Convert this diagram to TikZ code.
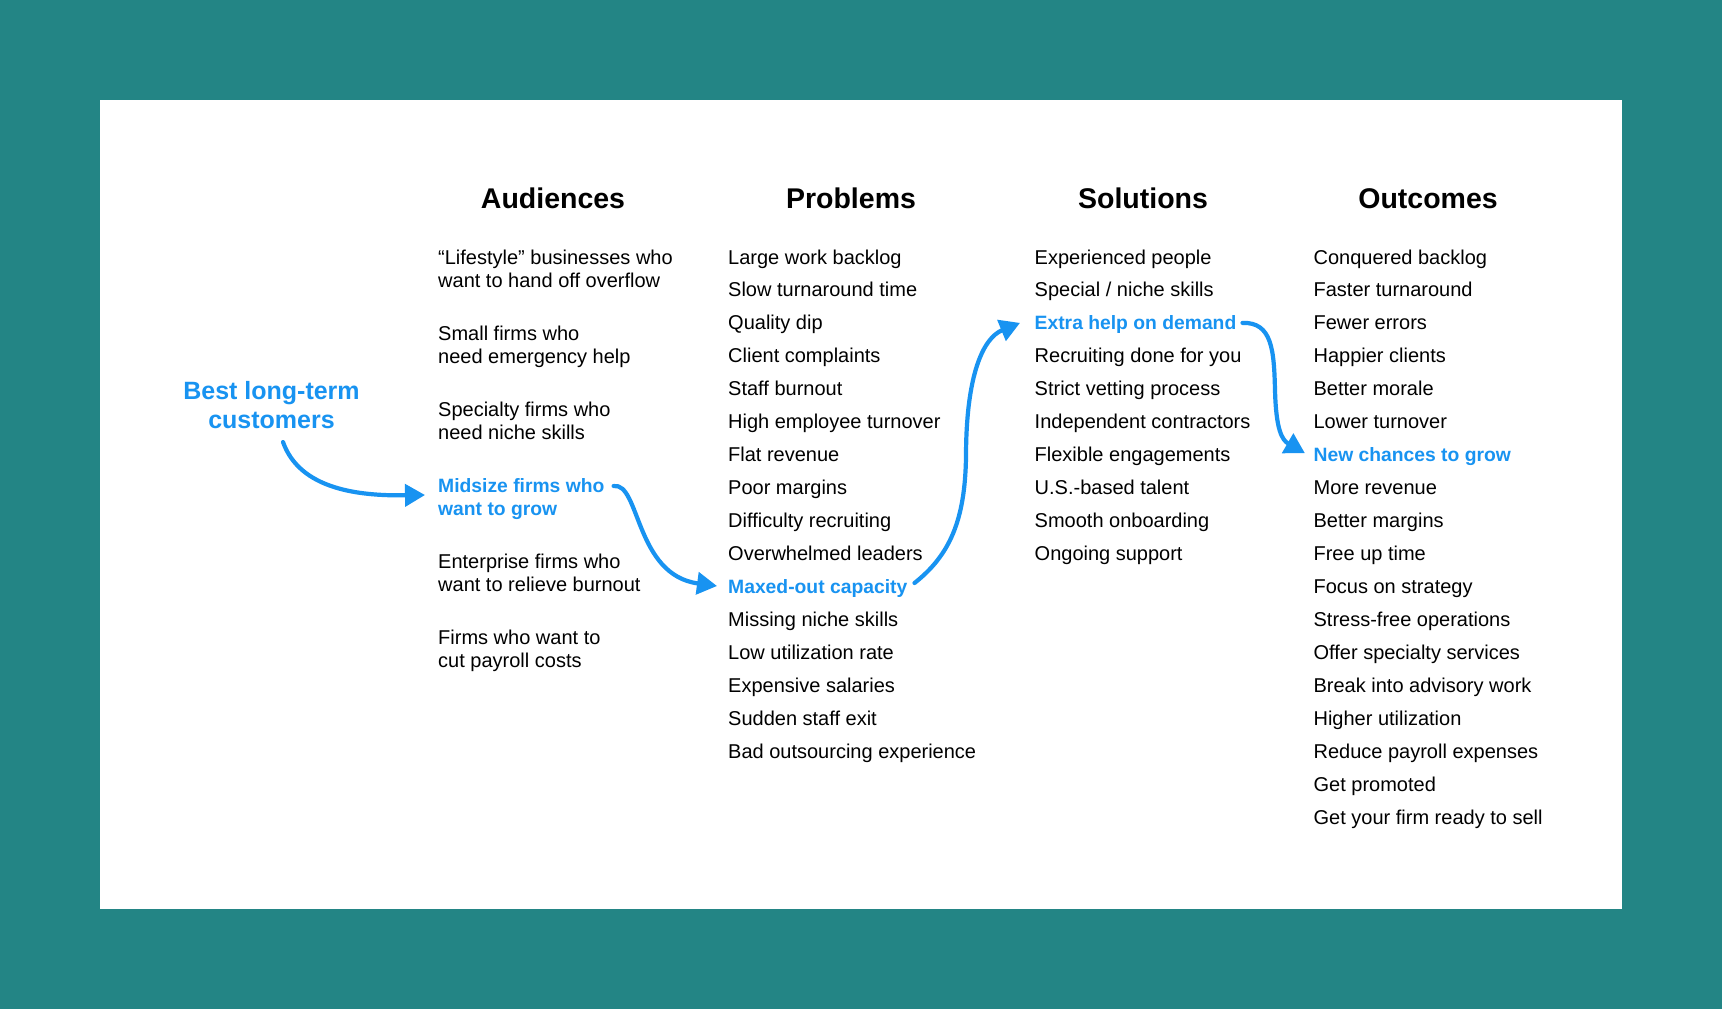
\documentclass[tikz,border=0pt]{standalone}
\usepackage{fontspec}
\setmainfont{Liberation Sans}
\usetikzlibrary{arrows.meta}
\definecolor{teal0}{HTML}{238585}
\definecolor{hl}{HTML}{1893F1}
\newcommand{\hlfont}{\fontsize{19.3}{23}\selectfont\bfseries\color{hl}}
\begin{document}
\begin{tikzpicture}[x=1pt,y=-1pt,
  item/.style={anchor=base west,inner sep=0pt,font=\fontsize{20}{23}\selectfont},
  hlitem/.style={item,text=hl,font=\hlfont},
  head/.style={anchor=base,inner sep=0pt,font=\fontsize{28.5}{32}\selectfont\bfseries},
  best/.style={anchor=base,inner sep=0pt,text=hl,font=\fontsize{25}{29}\selectfont\bfseries},
  conn/.style={hl,line width=4.2pt,line cap=round,-{Triangle[length=20pt,width=22pt]}}]
\fill[teal0] (0,0) rectangle (1722,1009);
\fill[white] (100,100) rectangle (1622,909);
\useasboundingbox (0,0) rectangle (1722,1009);

% headers
\node[head] (hA) at (553,208) {Audiences};
\node[head] (hP) at (851,208) {Problems};
\node[head] (hS) at (1143,208) {Solutions};
\node[head] (hO) at (1428,208) {Outcomes};

% best customers
\node[best] (best1) at (271.5,399) {Best long-term};
\node[best] (best2) at (271.5,428) {customers};

% audiences
\node[item] (a0a) at (438,264) {“Lifestyle” businesses who};
\node[item] (a0b) at (438,287) {want to hand off overflow};
\node[item] (a1a) at (438,340) {Small firms who};
\node[item] (a1b) at (438,363) {need emergency help};
\node[item] (a2a) at (438,416) {Specialty firms who};
\node[item] (a2b) at (438,439) {need niche skills};
\node[hlitem] (a3a) at (438,492) {Midsize firms who};
\node[hlitem] (a3b) at (438,515) {want to grow};
\node[item] (a4a) at (438,568) {Enterprise firms who};
\node[item] (a4b) at (438,591) {want to relieve burnout};
\node[item] (a5a) at (438,644) {Firms who want to};
\node[item] (a5b) at (438,667) {cut payroll costs};

% problems
\foreach \t [count=\i from 0] in {{Large work backlog},{Slow turnaround time},{Quality dip},{Client complaints},{Staff burnout},{High employee turnover},{Flat revenue},{Poor margins},{Difficulty recruiting},{Overwhelmed leaders},{\hlfont Maxed-out capacity},{Missing niche skills},{Low utilization rate},{Expensive salaries},{Sudden staff exit},{Bad outsourcing experience}}
  \node[item] (p\i) at (728,{264+32.95*\i}) {\t};

% solutions
\foreach \t [count=\i from 0] in {{Experienced people},{Special / niche skills},{\hlfont Extra help on demand},{Recruiting done for you},{Strict vetting process},{Independent contractors},{Flexible engagements},{U.S.-based talent},{Smooth onboarding},{Ongoing support}}
  \node[item] (s\i) at (1034.5,{264+32.95*\i}) {\t};

% outcomes
\foreach \t [count=\i from 0] in {{Conquered backlog},{Faster turnaround},{Fewer errors},{Happier clients},{Better morale},{Lower turnover},{\hlfont New chances to grow},{More revenue},{Better margins},{Free up time},{Focus on strategy},{Stress-free operations},{Offer specialty services},{Break into advisory work},{Higher utilization},{Reduce payroll expenses},{Get promoted},{Get your firm ready to sell}}
  \node[item] (o\i) at (1313.4,{264+32.95*\i}) {\t};

% connectors
\draw[conn] ([xshift=11.5pt,yshift=-14pt]best2.base) .. controls (300,490) and (360,496) .. ([xshift=-13pt,yshift=-3pt]a3a.base west);
\draw[conn] ([xshift=9pt,yshift=6pt]a3a.base east) .. controls (640,482) and (635,575) .. ([xshift=-11pt,yshift=7.5pt]p10.base west);
\draw[conn] ([xshift=7pt,yshift=10.5pt]p10.base east) .. controls (950,555) and (965,520) .. (966,457) .. controls (966,375) and (983,338) .. ([xshift=-14.5pt,yshift=7pt]s2.base west);
\draw[conn] ([xshift=6pt,yshift=7pt]s2.base east) .. controls (1272,322) and (1274,350) .. (1275,390) .. controls (1276,430) and (1282,440) .. ([xshift=-8.5pt,yshift=8.5pt]o6.base west);
\end{tikzpicture}
\end{document}
